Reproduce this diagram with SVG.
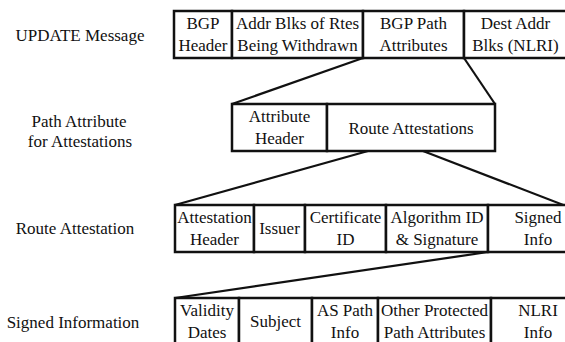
<svg xmlns="http://www.w3.org/2000/svg" width="565" height="342" viewBox="0 0 565 342">
<style>
  text { font-family: "Liberation Serif", "Times New Roman", serif; font-size: 17px; fill: #111; text-anchor: middle; }
  .cell { fill: #fff; stroke: #111; stroke-width: 2.5; }
  .conn { stroke: #111; stroke-width: 2.2; fill: none; }
</style>
<rect width="565" height="342" fill="#fff"/>

<g id="labels">
  <text x="80" y="41">UPDATE Message</text>
  <text x="79" y="127">Path Attribute</text>
  <text x="80" y="147">for Attestations</text>
  <text x="75" y="234">Route Attestation</text>
  <text x="73" y="328">Signed Information</text>
</g>

<g id="connectors">
  <line class="conn" x1="363" y1="58" x2="232" y2="104"/>
  <line class="conn" x1="464" y1="58" x2="495" y2="104"/>
  <line class="conn" x1="368" y1="151" x2="175" y2="205"/>
  <line class="conn" x1="423" y1="151" x2="566" y2="206"/>
  <line class="conn" x1="488" y1="252" x2="175" y2="298"/>
</g>

<g id="update-message">
  <g id="bgp-header"><rect class="cell" x="174" y="11" width="58" height="47"/><text x="203" y="29">BGP</text><text x="203" y="51">Header</text></g>
  <g id="withdrawn"><rect class="cell" x="232" y="11" width="131" height="47"/><text x="297.5" y="29">Addr Blks of Rtes</text><text x="297.5" y="51">Being Withdrawn</text></g>
  <g id="bgp-path-attributes"><rect class="cell" x="363" y="11" width="101" height="47"/><text x="413.5" y="29">BGP Path</text><text x="413.5" y="51">Attributes</text></g>
  <g id="nlri"><rect class="cell" x="464" y="11" width="104" height="47"/><text x="515.5" y="29">Dest Addr</text><text x="515.5" y="51">Blks (NLRI)</text></g>
</g>

<g id="path-attribute">
  <g id="attribute-header"><rect class="cell" x="232" y="104" width="95" height="47"/><text x="279.5" y="122">Attribute</text><text x="279.5" y="144">Header</text></g>
  <g id="route-attestations"><rect class="cell" x="327" y="104" width="168" height="47"/><text x="411" y="134">Route Attestations</text></g>
</g>

<g id="route-attestation">
  <g id="attestation-header"><rect class="cell" x="175" y="205" width="79" height="47"/><text x="214.5" y="223">Attestation</text><text x="214.5" y="245">Header</text></g>
  <g id="issuer"><rect class="cell" x="254" y="205" width="51" height="47"/><text x="279.5" y="234">Issuer</text></g>
  <g id="certificate-id"><rect class="cell" x="305" y="205" width="81" height="47"/><text x="345.5" y="223">Certificate</text><text x="345.5" y="245">ID</text></g>
  <g id="algorithm-signature"><rect class="cell" x="386" y="205" width="102" height="47"/><text x="437" y="223">Algorithm ID</text><text x="437" y="245">&amp; Signature</text></g>
  <g id="signed-info"><rect class="cell" x="488" y="205" width="100" height="47"/><text x="538" y="223">Signed</text><text x="538" y="245">Info</text></g>
</g>

<g id="signed-information">
  <g id="validity-dates"><rect class="cell" x="175" y="298" width="64" height="47"/><text x="207" y="316">Validity</text><text x="207" y="338">Dates</text></g>
  <g id="subject"><rect class="cell" x="239" y="298" width="73" height="47"/><text x="275.5" y="327">Subject</text></g>
  <g id="as-path-info"><rect class="cell" x="312" y="298" width="66" height="47"/><text x="345" y="316">AS Path</text><text x="345" y="338">Info</text></g>
  <g id="other-attributes"><rect class="cell" x="378" y="298" width="113" height="47"/><text x="434.5" y="316">Other Protected</text><text x="434.5" y="338">Path Attributes</text></g>
  <g id="nlri-info"><rect class="cell" x="491" y="298" width="95" height="47"/><text x="538" y="316">NLRI</text><text x="538" y="338">Info</text></g>
</g>
</svg>
